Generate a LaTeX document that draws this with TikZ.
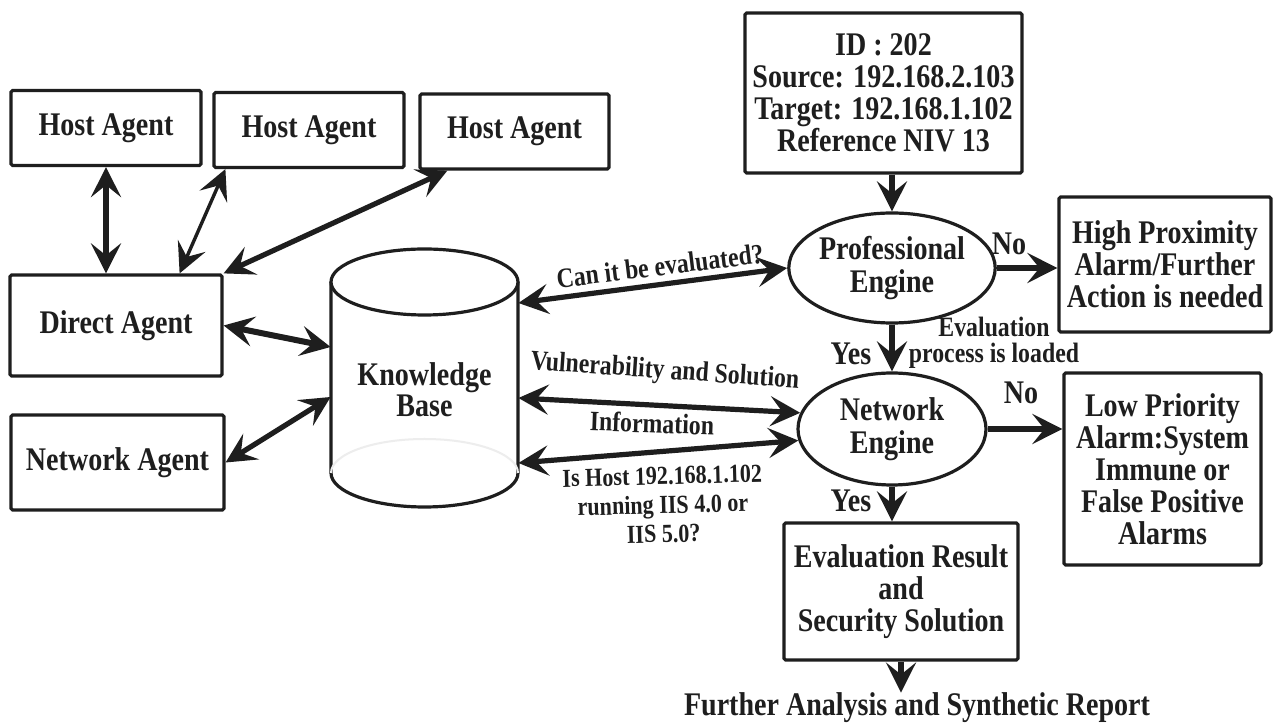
\documentclass[tikz,border=0pt]{standalone}
\usepackage{fontspec}
\setmainfont{Liberation Serif}[FakeStretch=0.85]
\usetikzlibrary{arrows.meta,shapes.geometric,calc,fit}
\definecolor{ink}{HTML}{1E1E1E}
\begin{document}
\begin{tikzpicture}[x=0.5pt,y=-0.5pt,
  hd/.tip={Stealth[length=15pt,width=15pt,inset=6pt]},
  box/.style={draw=ink, line width=1.6pt, rounded corners=0.8pt, inner sep=0pt, align=center,
    font=\bfseries\fontsize{16.5}{16}\selectfont, text=ink},
  eng/.style={ellipse, draw=ink, line width=1.6pt, inner sep=0pt, align=center,
    font=\bfseries\fontsize{16.5}{16.5}\selectfont, text=ink},
  lbl/.style={font=\bfseries\fontsize{14}{13}\selectfont, text=ink, align=center, inner sep=0pt},
  big/.style={font=\bfseries\fontsize{16.5}{16}\selectfont, text=ink, inner sep=0pt},
  dblarr/.style={draw=ink, line width=2.6pt, hd-hd},
  onearr/.style={draw=ink, line width=3pt, -hd},
]
\fill[white] (0,0) rectangle (1276,726);
\useasboundingbox (0,0) rectangle (1276,726);

% agents
\node[box, minimum width=95pt, minimum height=37.5pt] (h1) at (106,128) {Host Agent};
\node[box, minimum width=95pt, minimum height=37.5pt] (h2) at (309,130) {Host Agent};
\node[box, minimum width=94.5pt, minimum height=37.5pt] (h3) at (514.5,131.5) {Host Agent};
\node[box, minimum width=106pt, minimum height=50.5pt] (direct) at (116,325.5) {Direct Agent};
\node[box, minimum width=106.5pt, minimum height=47.5pt] (netag) at (117.5,462.5) {Network Agent};

% knowledge base cylinder
\node[fit={(331,249) (518,507)}, inner sep=0pt] (kb) {};
\filldraw[fill=white, draw=ink, line width=1.6pt]
  (331,282) -- (331,473) arc[start angle=180, end angle=0, x radius=93.5, y radius=34] -- (518,282);
\draw[gray!14, line width=1pt] (331,473) arc[start angle=180, end angle=360, x radius=93.5, y radius=34];
\draw[draw=ink, line width=1.6pt, fill=white] (424.5,282) ellipse[x radius=93.5, y radius=33];
\node[big, align=center] (kbtext) at (424.5,390) {Knowledge\\[-0.5pt]Base};

% right side
\node[box, minimum width=138.5pt, minimum height=80pt] (id) at (883.5,93)
  {ID : 202\\Source: 192.168.2.103\\Target: 192.168.1.102\\Reference NIV 13};
\node[eng, minimum width=94.5pt, minimum height=55pt] (prof) at (892,268) {Professional\\Engine};
\node[eng, minimum width=94pt, minimum height=56pt] (net) at (892,429) {Network\\Engine};
\node[box, minimum width=106pt, minimum height=67.5pt] (high) at (1165,264.5)
  {High Proximity\\Alarm/Further\\Action is needed};
\node[box, minimum width=98.5pt, minimum height=96pt] (low) at (1162.5,469)
  {Low Priority\\Alarm:System\\Immune or\\False Positive\\Alarms};
\node[box, minimum width=117pt, minimum height=68.5pt] (eval) at (901,591.5)
  {Evaluation Result\\and\\Security Solution};
\node[big] (further) at (917,708) {Further Analysis and Synthetic Report};

% labels
\node[lbl, rotate=7] (l1) at (660,266) {Can it be evaluated?};
\node[lbl, rotate=-4] (l2) at (665,372) {Vulnerability and Solution};
\node[lbl, rotate=-2] (l3) at (652,423) {Information};
\node[lbl, rotate=1.5, font=\bfseries\fontsize{13}{14.5}\selectfont] (l4) at (663,505)
  {Is Host 192.168.1.102\\running IIS 4.0 or\\IIS 5.0?};
\node[lbl] (l5) at (994,343) {Evaluation\\process is loaded};
\node[big] (y1) at (851,354) {Yes};
\node[big] (n1) at (1009,244) {No};
\node[big] (n2) at (1021,393) {No};
\node[big] (y2) at (851,501) {Yes};

% connectors left
\draw[dblarr, line width=3pt] (h1.south) -- (h1.south |- direct.north);
\draw[dblarr, line width=1.7pt] ($(h2.south west)+(13,0)$) -- ($(direct.north east)+(-44,0)$);
\draw[dblarr] ($(h3.south west)+(29,0)$) -- (direct.north east);
\draw[dblarr, line width=3pt] (direct.east) -- ($(kb.west)+(0,-31)$);
\draw[dblarr] (netag.east) -- ($(kb.west)+(0,19)$);

% connectors right of kb
\draw[dblarr] ($(kb.east)+(0,-75)$) -- (prof.west);
\draw[dblarr] ($(kb.east)+(0,20)$) -- (net.170);
\draw[dblarr] ($(kb.east)+(0,85)$) -- (net.187);

% flow
\draw[onearr] (prof.north |- id.south) -- (prof.north);
\draw[onearr, line width=3.4pt] (prof.east) -- (prof.east -| high.west);
\draw[onearr] (prof.south) -- (net.north);
\draw[onearr, line width=3.4pt] (net.east) -- (net.east -| low.west);
\draw[onearr] (net.south) -- (net.south |- eval.north);
\draw[onearr] (eval.south) -- (eval.south |- further.north);
\end{tikzpicture}
\end{document}
